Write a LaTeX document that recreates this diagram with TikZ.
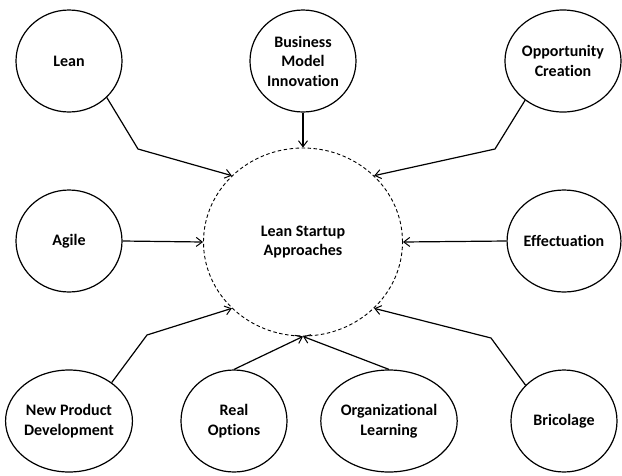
\documentclass[tikz,border=0pt]{standalone}
\usepackage{fontspec}
\setmainfont[RawFeature=-liga]{Carlito}
\usetikzlibrary{shapes.geometric,arrows.meta}
\tikzset{
  topic/.style={ellipse, draw, line width=1.2pt, minimum width=106pt, minimum height=102pt,
    inner sep=0pt, align=center, font=\fontsize{16}{19.5}\selectfont\bfseries},
  hub/.style={ellipse, draw, line width=0.9pt, dash pattern=on 3.5pt off 2.5pt,
    minimum width=199pt, minimum height=188pt, inner sep=0pt, align=center,
    font=\fontsize{16}{19.5}\selectfont\bfseries},
  link/.style={line width=1.2pt, -{Straight Barb[length=6pt,width=9pt,line width=1pt]}}
}
\begin{document}
\begin{tikzpicture}[x=1pt,y=-1pt]
\useasboundingbox (0,0) rectangle (622,475);
\node[hub] (c) at (303,242) {Lean Startup\\Approaches};
\node[topic] (lean) at (69,61) {Lean};
\node[topic] (bmi) at (303,61) {Business\\Model\\Innovation};
\node[topic] (oc) at (563,61) {Opportunity\\Creation};
\node[topic] (agile) at (69,241) {Agile};
\node[topic] (eff) at (564,241) {Effectuation};
\node[topic] (npd) at (69,421) {New Product\\Development};
\node[topic] (ro) at (234,421) {Real\\Options};
\node[topic] (ol) at (389,421) {Organizational\\Learning};
\node[topic] (bri) at (564,421) {Bricolage};
\coordinate (b1) at (138,149);
\coordinate (b3) at (495,149);
\coordinate (b6) at (147,335);
\coordinate (b9) at (491,338);
\draw[link] (lean.-44) -- (b1) -- (c.137);
\draw[link] (bmi.south) -- (c.north);
\draw[link] (oc.226) -- (b3) -- (c.43);
\draw[link] (agile.east) -- (c.west);
\draw[link] (eff.west) -- (c.east);
\draw[link] (npd.42) -- (b6) -- (c.223);
\draw[link] (ro.north) -- (c.south);
\draw[link] (ol.north) -- (c.south);
\draw[link] (bri.137) -- (b9) -- (c.317);
\end{tikzpicture}
\end{document}
